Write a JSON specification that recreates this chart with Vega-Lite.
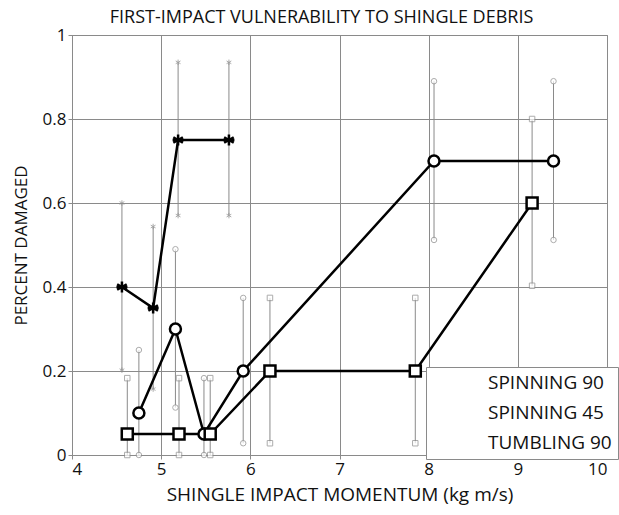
{
  "$schema": "https://vega.github.io/schema/vega-lite/v6.json",
  "autosize": "none",
  "padding": {"left": 72, "top": 35, "right": 12, "bottom": 60},
  "width": 535,
  "height": 420,
  "background": "white",
  "title": {"text": "FIRST-IMPACT VULNERABILITY TO SHINGLE DEBRIS", "fontSize": 18, "fontWeight": "normal", "font": "Open Sans", "color": "#111", "anchor": "middle", "dx": -18, "offset": -1},
  "config": {
    "font": "Open Sans",
    "view": {"stroke": "#8a8a8a", "strokeWidth": 1},
    "axis": {"gridColor": "#8a8a8a", "gridOpacity": 1, "gridWidth": 1, "domainColor": "#8a8a8a", "tickColor": "#8a8a8a", "tickSize": 4, "labelFontSize": 17, "labelColor": "#111", "titleFontSize": 17, "titleFontWeight": "normal", "titleColor": "#111", "labelFont": "Open Sans", "titleFont": "Open Sans"}
  },
  "resolve": {"scale": {"shape": "independent"}, "legend": {"shape": "independent"}},
  "data": {"values": [
    {"series": "SPINNING 90", "x": 4.75, "y": 0.1, "lo": 0.0, "hi": 0.25},
    {"series": "SPINNING 90", "x": 5.16, "y": 0.3, "lo": 0.113, "hi": 0.49},
    {"series": "SPINNING 90", "x": 5.48, "y": 0.05, "lo": 0.0, "hi": 0.183},
    {"series": "SPINNING 90", "x": 5.92, "y": 0.2, "lo": 0.028, "hi": 0.374},
    {"series": "SPINNING 90", "x": 8.06, "y": 0.7, "lo": 0.512, "hi": 0.89},
    {"series": "SPINNING 90", "x": 9.4, "y": 0.7, "lo": 0.512, "hi": 0.89},
    {"series": "SPINNING 45", "x": 4.62, "y": 0.05, "lo": 0.0, "hi": 0.183},
    {"series": "SPINNING 45", "x": 5.2, "y": 0.05, "lo": 0.0, "hi": 0.183},
    {"series": "SPINNING 45", "x": 5.55, "y": 0.05, "lo": 0.0, "hi": 0.183},
    {"series": "SPINNING 45", "x": 6.22, "y": 0.2, "lo": 0.028, "hi": 0.374},
    {"series": "SPINNING 45", "x": 7.85, "y": 0.2, "lo": 0.028, "hi": 0.374},
    {"series": "SPINNING 45", "x": 9.16, "y": 0.6, "lo": 0.403, "hi": 0.8},
    {"series": "TUMBLING 90", "x": 4.56, "y": 0.4, "lo": 0.202, "hi": 0.6},
    {"series": "TUMBLING 90", "x": 4.91, "y": 0.35, "lo": 0.157, "hi": 0.544},
    {"series": "TUMBLING 90", "x": 5.19, "y": 0.75, "lo": 0.57, "hi": 0.935},
    {"series": "TUMBLING 90", "x": 5.76, "y": 0.75, "lo": 0.57, "hi": 0.935}
  ]},
  "encoding": {
    "x": {"field": "x", "type": "quantitative", "scale": {"domain": [4, 10], "nice": false, "zero": false},
      "axis": {"values": [4, 5, 6, 7, 8, 9, 10], "format": "d", "title": "SHINGLE IMPACT MOMENTUM (kg m/s)", "labelPadding": 2, "titlePadding": 8, "titleFontSize": 19}}
  },
  "layer": [
    {
      "mark": {"type": "rule", "color": "#8a8a8a", "strokeWidth": 1},
      "encoding": {
        "y": {"field": "lo", "type": "quantitative", "scale": {"domain": [0, 1], "nice": false},
          "axis": {"values": [0, 0.2, 0.4, 0.6, 0.8, 1], "format": "~g", "title": "PERCENT DAMAGED", "labelPadding": 2, "titlePadding": 12}},
        "y2": {"field": "hi"}
      }
    },
    {
      "mark": {"type": "point", "filled": true, "fill": "white", "stroke": "#8a8a8a", "strokeWidth": 1, "size": 30},
      "encoding": {
        "y": {"field": "lo", "type": "quantitative"},
        "shape": {"field": "series", "type": "nominal", "legend": null,
          "scale": {"domain": ["SPINNING 90", "SPINNING 45", "TUMBLING 90"], "range": ["circle", "square", "M0,-1L0,1M-0.87,-0.5L0.87,0.5M-0.87,0.5L0.87,-0.5"]}}
      }
    },
    {
      "mark": {"type": "point", "filled": true, "fill": "white", "stroke": "#8a8a8a", "strokeWidth": 1, "size": 30},
      "encoding": {
        "y": {"field": "hi", "type": "quantitative"},
        "shape": {"field": "series", "type": "nominal", "legend": null,
          "scale": {"domain": ["SPINNING 90", "SPINNING 45", "TUMBLING 90"], "range": ["circle", "square", "M0,-1L0,1M-0.87,-0.5L0.87,0.5M-0.87,0.5L0.87,-0.5"]}}
      }
    },
    {
      "mark": {"type": "line", "color": "black", "strokeWidth": 2.5},
      "encoding": {
        "y": {"field": "y", "type": "quantitative"},
        "detail": {"field": "series", "type": "nominal"}
      }
    },
    {
      "mark": {"type": "point", "filled": true, "fill": "white", "stroke": "black", "strokeWidth": 2.5, "size": 121, "opacity": 1},
      "encoding": {
        "y": {"field": "y", "type": "quantitative"},
        "shape": {"field": "series", "type": "nominal",
          "scale": {"domain": ["SPINNING 90", "SPINNING 45", "TUMBLING 90"], "range": ["circle", "square", "M0,-1L0,1M-0.87,-0.5L0.87,0.5M-0.87,0.5L0.87,-0.5M-1,0L1,0"]},
          "legend": {
            "title": null, "orient": "none", "legendX": 354, "legendY": 332,
            "strokeColor": "#8a8a8a", "fillColor": "white", "padding": 6,
            "labelFontSize": 19, "labelFont": "Open Sans", "labelColor": "#111",
            "symbolSize": 121, "symbolOffset": 18, "labelOffset": 19, "rowPadding": 10,
            "symbolStrokeWidth": 2, "symbolStrokeColor": "black", "symbolFillColor": "white", "symbolOpacity": 1
          }
        }
      }
    }
  ]
}
